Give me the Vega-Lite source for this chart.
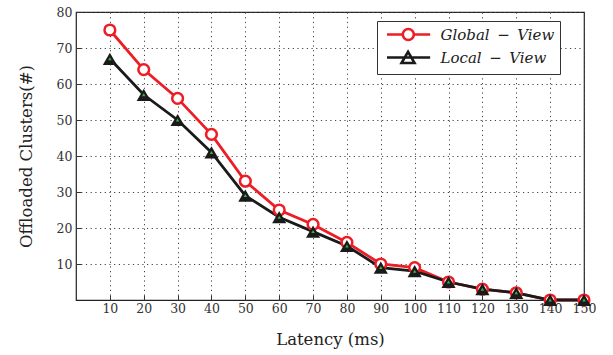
{
  "$schema": "https://vega.github.io/schema/vega-lite/v6.json",
  "autosize": {"type": "none"},
  "width": 508,
  "height": 288,
  "padding": {"left": 76, "top": 12, "right": 29, "bottom": 55},
  "background": "white",
  "config": {
    "view": {"stroke": "#222", "strokeWidth": 1.2},
    "axis": {
      "labelFont": "DejaVu Serif",
      "labelFontSize": 12.5,
      "labelColor": "#333",
      "labelOverlap": false,
      "labelFlush": false,
      "titleFont": "DejaVu Serif",
      "titleFontSize": 16.5,
      "titleFontWeight": "normal",
      "titleColor": "#222",
      "domain": false,
      "grid": true,
      "gridColor": "#444",
      "gridDash": [1.2, 3.5],
      "gridWidth": 1,
      "ticks": true,
      "tickColor": "#333",
      "tickSize": -5
    }
  },
  "data": {
    "values": [
      {"latency": 10, "series": "Global-View", "clusters": 75},
      {"latency": 20, "series": "Global-View", "clusters": 64},
      {"latency": 30, "series": "Global-View", "clusters": 56},
      {"latency": 40, "series": "Global-View", "clusters": 46},
      {"latency": 50, "series": "Global-View", "clusters": 33},
      {"latency": 60, "series": "Global-View", "clusters": 25},
      {"latency": 70, "series": "Global-View", "clusters": 21},
      {"latency": 80, "series": "Global-View", "clusters": 16},
      {"latency": 90, "series": "Global-View", "clusters": 10},
      {"latency": 100, "series": "Global-View", "clusters": 9},
      {"latency": 110, "series": "Global-View", "clusters": 5},
      {"latency": 120, "series": "Global-View", "clusters": 3},
      {"latency": 130, "series": "Global-View", "clusters": 2},
      {"latency": 140, "series": "Global-View", "clusters": 0},
      {"latency": 150, "series": "Global-View", "clusters": 0},
      {"latency": 10, "series": "Local-View", "clusters": 67},
      {"latency": 20, "series": "Local-View", "clusters": 57},
      {"latency": 30, "series": "Local-View", "clusters": 50},
      {"latency": 40, "series": "Local-View", "clusters": 41},
      {"latency": 50, "series": "Local-View", "clusters": 29},
      {"latency": 60, "series": "Local-View", "clusters": 23},
      {"latency": 70, "series": "Local-View", "clusters": 19},
      {"latency": 80, "series": "Local-View", "clusters": 15},
      {"latency": 90, "series": "Local-View", "clusters": 9},
      {"latency": 100, "series": "Local-View", "clusters": 8},
      {"latency": 110, "series": "Local-View", "clusters": 5},
      {"latency": 120, "series": "Local-View", "clusters": 3},
      {"latency": 130, "series": "Local-View", "clusters": 2},
      {"latency": 140, "series": "Local-View", "clusters": 0},
      {"latency": 150, "series": "Local-View", "clusters": 0}
    ]
  },
  "encoding": {
    "x": {
      "field": "latency", "type": "quantitative",
      "scale": {"domain": [0, 150], "nice": false, "zero": false},
      "axis": {"values": [10,20,30,40,50,60,70,80,90,100,110,120,130,140,150], "title": "Latency (ms)", "labelPadding": 7, "titlePadding": 17}
    },
    "y": {
      "field": "clusters", "type": "quantitative",
      "scale": {"domain": [0, 80], "nice": false},
      "axis": {"values": [10,20,30,40,50,60,70,80], "title": "Offloaded Clusters(#)", "labelPadding": 9, "titlePadding": 22}
    }
  },
  "layer": [
    {
      "mark": {"type": "line", "strokeWidth": 2.8},
      "encoding": {
        "color": {"field": "series", "type": "nominal", "scale": {"range": ["#ee1c25", "#1a1a1a"]}, "legend": null}
      }
    },
    {
      "transform": [{"filter": "datum.series == 'Global-View'"}],
      "mark": {"type": "point", "shape": "circle", "filled": false, "fill": "white", "fillOpacity": 1, "strokeWidth": 2.5, "size": 115, "opacity": 1},
      "encoding": {
        "stroke": {
          "field": "series", "type": "nominal",
          "scale": {"domain": ["Global-View", "Local-View"], "range": ["#ee1c25", "#1a1a1a"]},
          "legend": {
            "title": null,
            "orient": "none",
            "legendX": 301,
            "legendY": 9,
            "direction": "vertical",
            "padding": 5.5,
            "rowPadding": 1,
            "fillColor": "white",
            "strokeColor": "#333",
            "symbolSize": 169,
            "symbolStrokeWidth": 2.6,
            "symbolType": {"expr": "datum.value == 'Global-View' ? 'M-0.54,0H1.89M3.59,0H6.1M3.59,0A0.85,0.85 0 1,1 1.89,0A0.85,0.85 0 1,1 3.59,0Z' : 'M-0.54,0H6.1M1.7,0.85L2.7,-0.88L3.7,0.85Z'"},
            "symbolFillColor": {"expr": "datum.value == 'Global-View' ? 'white' : '#1a1a1a'"},
            "labelFont": "DejaVu Serif",
            "labelFontStyle": "italic",
            "labelFontSize": 15,
            "labelColor": "#222",
            "labelOffset": 42,
            "labelExpr": "replace(datum.label, '-', '\u2002−\u2002') + '\u2003\u2003'"
          }
        }
      }
    },
    {
      "transform": [{"filter": "datum.series == 'Local-View'"}],
      "mark": {"type": "point", "shape": "triangle-up", "filled": true, "size": 200, "color": "#1a1a1a", "opacity": 1},
      "encoding": {}
    },
    {
      "transform": [{"filter": "datum.series == 'Local-View'"}],
      "mark": {"type": "point", "shape": "triangle-up", "filled": true, "size": 12, "color": "#3cb043", "opacity": 1},
      "encoding": {}
    }
  ]
}
